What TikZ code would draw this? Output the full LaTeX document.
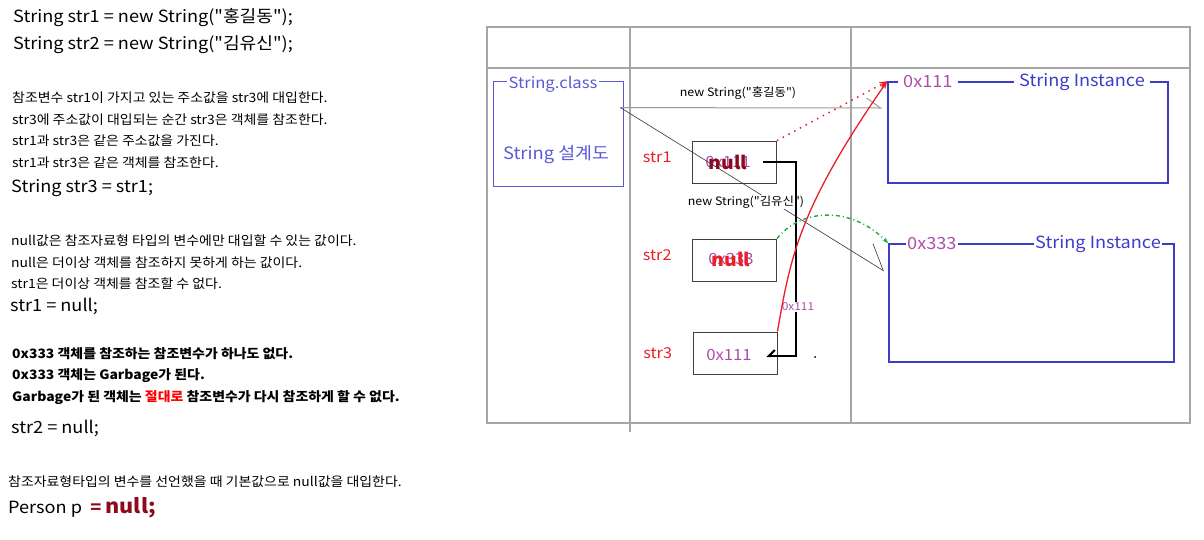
\documentclass[tikz,border=0pt]{standalone}
\usepackage{fontspec}
\setmainfont{Noto Sans CJK KR}[Ligatures=TeXOff,FakeStretch=1.08]
\usepackage{tikz}
\usetikzlibrary{arrows.meta,positioning,calc}

\definecolor{addrpurple}{RGB}{170,80,170}
\definecolor{instblue}{RGB}{60,60,200}
\definecolor{clsblue}{RGB}{90,90,215}
\definecolor{nullred}{RGB}{140,10,30}
\definecolor{varred}{RGB}{235,30,40}
\definecolor{dashgreen}{RGB}{30,170,60}

\begin{document}
\begin{tikzpicture}[x=1pt,y=-1pt,
    code/.style={anchor=west,inner sep=0pt,font=\fontsize{16.8}{18}\selectfont},
    note/.style={anchor=west,inner sep=0pt,font=\fontsize{12.9}{14}\selectfont},
    boldnote/.style={note,font=\fontsize{12.9}{14}\selectfont\bfseries},
    grid/.style={draw=black!35,line width=1.2pt},
    varbox/.style={draw=black!75,line width=0.9pt,minimum width=84pt,minimum height=42pt,inner sep=0pt},
    varname/.style={text=varred,font=\fontsize{15}{17}\selectfont},
    addr/.style={text=addrpurple,font=\fontsize{15.5}{17}\selectfont},
    nullmark/.style={font=\fontsize{18}{20}\selectfont\bfseries},
    instbox/.style={draw=instblue,line width=1.6pt,minimum width=280pt,inner sep=0pt},
    tag/.style={fill=white,inner sep=1.5pt,anchor=west,font=\fontsize{16.8}{18}\selectfont},
    callout/.style={fill=white,inner sep=1pt,font=\fontsize{11.5}{13}\selectfont}]
    \useasboundingbox (0,0) rectangle (1204,539);

    % code and notes on the left
    \node[code] (l1) at (13,18) {String str1 = new String("홍길동");};
    \node[code] (l2) at (13,45) {String str2 = new String("김유신");};
    \node[note] (n1) at (12,98) {참조변수 str1이 가지고 있는 주소값을 str3에 대입한다.};
    \node[note] (n2) at (12,120) {str3에 주소값이 대입되는 순간 str3은 객체를 참조한다.};
    \node[note] (n3) at (12,141) {str1과 str3은 같은 주소값을 가진다.};
    \node[note] (n4) at (12,163) {str1과 str3은 같은 객체를 참조한다.};
    \node[code] (l3) at (11,188) {String str3 = str1;};
    \node[note] (n5) at (11,241) {null값은 참조자료형 타입의 변수에만 대입할 수 있는 값이다.};
    \node[note] (n6) at (11,263) {null은 더이상 객체를 참조하지 못하게 하는 값이다.};
    \node[note] (n7) at (11,284) {str1은 더이상 객체를 참조할 수 없다.};
    \node[code] (l4) at (10,306) {str1 = null;};
    \node[boldnote] (b1) at (12,354) {0x333 객체를 참조하는 참조변수가 하나도 없다.};
    \node[boldnote] (b2) at (12,376) {0x333 객체는 Garbage가 된다.};
    \node[boldnote] (b3) at (12,398) {Garbage가 된 객체는 \textcolor{red}{절대로} 참조변수가 다시 참조하게 할 수 없다.};
    \node[code] (l5) at (11,428) {str2 = null;};
    \node[note] (n8) at (8,482) {참조자료형타입의 변수를 선언했을 때 기본값으로 null값을 대입한다.};
    \node[code] (l6) at (8,508) {Person p \textcolor{nullred}{\bfseries\ = \fontsize{20}{22}\selectfont null;}};

    % memory table
    \draw[grid] (487,27) rectangle (1190,423);
    \draw[grid] (487,68) -- (1190,68);
    \draw[grid] (630,27) -- (630,432);
    \draw[grid] (851,27) -- (851,423);

    % class area
    \node[draw=clsblue,line width=0.8pt,minimum width=130pt,minimum height=105pt,inner sep=0pt] (cls) at (558,133.5) {};
    \node[fill=white,inner sep=1.5pt,text=clsblue,font=\fontsize{15.4}{17}\selectfont] (clsname) at (553,84) {String.class};
    \node[text=clsblue,font=\fontsize{17}{19}\selectfont] (clsdesc) at (556,155) {String 설계도};
    \coordinate (clsout) at ($(cls.north east)+(-3,27)$);

    % reference variables
    \node[varbox] (s1) at (734.5,162) {};
    \node[varbox] (s2) at (734.5,260) {};
    \node[varbox] (s3) at (735,353) {};
    \node[varname,left=17pt of s1,yshift=5pt] (s1name) {str1};
    \node[varname,left=17pt of s2,yshift=5pt] (s2name) {str2};
    \node[varname,left=17pt of s3] (s3name) {str3};
    \node[addr] (s1addr) at (728,162) {0x111};
    \node[nullmark,text=nullred] (s1null) at (728,162) {null};
    \node[addr] (s2addr) at (731,259) {0x333};
    \node[nullmark,text=varred] (s2null) at (731,259) {null};
    \node[addr] (s3addr) at (729,355) {0x111};

    % instances
    \node[instbox,minimum height=101pt] (inst1) at (1028,132.5) {};
    \node[instbox,minimum width=285pt,minimum height=118pt] (inst2) at (1031.5,303) {};
    \node[tag,inner xsep=5pt,text=addrpurple] (inst1addr) at (898,82) {0x111};
    \node[tag,inner xsep=5pt,text=instblue] (inst1name) at (1014,82) {String Instance};
    \node[tag,inner sep=1pt,text=addrpurple] (inst2addr) at (906,244) {0x333};
    \node[tag,inner sep=1pt,text=instblue] (inst2name) at (1034,244) {String Instance};

    % new String(...) connectors
    \coordinate (in1) at (882,108);
    \coordinate (in2) at (884,271);
    \draw[black!40,line width=1pt,-{Straight Barb[left,length=14pt,width=20pt]}] (clsout) -- (in1);
    \draw[black!80,line width=0.6pt,-{Straight Barb[left,length=23pt,width=35pt]}] (clsout) -- (in2);
    \node[callout] (new1) at (738,93) {new String("홍길동")};
    \node[callout] (new2) at (746,202) {new String("김유신")};

    % str3 = str1
    \draw[line width=2pt,-{Straight Barb[right,length=6pt,width=12pt]}] ($(s1.east)+(-14,0)$) -- ++(33,0) |- ($(s3.east)+(-11,3)$);
    \node[callout,text=addrpurple,font=\fontsize{11}{13}\selectfont] (hop) at (798,307) {0x111};
    \fill (815,357) circle (1pt);

    % references to the instances
    \draw[varred,line width=1.5pt,dash pattern=on 1.5pt off 5pt,-{Stealth[length=8pt]}] (s1.north east) -- (inst1.north west);
    \draw[varred,line width=1.3pt,-{Stealth[length=8pt]}] (s3.north east) .. controls +(13,-75) and +(-88,127) .. (inst1.north west);
    \draw[dashgreen,line width=1.4pt,dash pattern=on 4pt off 3pt on 1pt off 3pt,-{Stealth[length=6pt]}] (s2.north east) .. controls +(23,-29) and +(-39,-39) .. (inst2.north west);
\end{tikzpicture}
\end{document}
